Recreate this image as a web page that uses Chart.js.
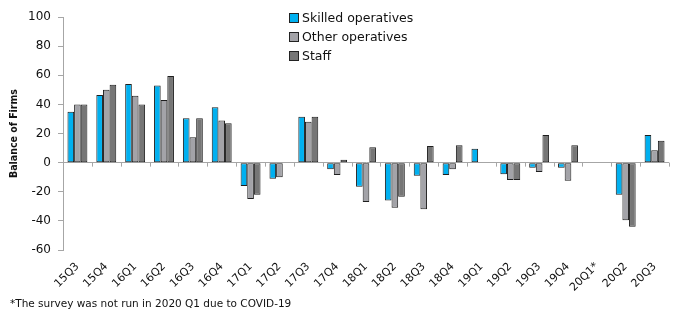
<!DOCTYPE html>
<html>
<head>
<meta charset="utf-8">
<script src="https://cdn.jsdelivr.net/npm/chart.js@4/dist/chart.umd.min.js"></script>
<style>
  body { margin: 0; background: #fff; }
  #wrap { position: relative; width: 675px; height: 311px; }
  #legend { position: absolute; left: 289px; top: 10px; font-family: "DejaVu Sans", sans-serif; font-size: 12.5px; color: #111; }
  #legend div { height: 19px; line-height: 16px; white-space: nowrap; }
  #legend span { display: inline-block; width: 8px; height: 8px; border: 1px solid #222; margin-right: 3px; vertical-align: -1px; }
  #note { position: absolute; left: 10px; top: 297px; font-family: "DejaVu Sans", sans-serif; font-size: 10.5px; color: #111; }
</style>
</head>
<body>
<div id="wrap">
  <canvas id="chart" width="675" height="311"></canvas>
  <div id="legend"></div>
  <div id="note">*The survey was not run in 2020 Q1 due to COVID-19</div>
</div>
<script>
const quarters = ['15Q3','15Q4','16Q1','16Q2','16Q3','16Q4','17Q1','17Q2','17Q3','17Q4',
                  '18Q1','18Q2','18Q3','18Q4','19Q1','19Q2','19Q3','19Q4','20Q1*','20Q2','20Q3'];
const skilled = [35, 46.5, 54, 53, 30.5, 38, -16, -11, 31.5, -4.5, -16.5, -26, -9, -8.5, 9.5, -8, -3.5, -3.5, null, -22, 19];
const other   = [40, 50, 46, 43, 17.5, 29, -25, -10, 28, -8.5, -27, -31, -32, -4.5, null, -12, -6.5, -12.5, null, -39.5, 8.5];
const staff   = [40, 53.5, 40, 59.5, 30.5, 27, -22, null, 31.5, 2, 10.5, -23.5, 11.5, 12, null, -12, 19, 12, null, -44, 15];
const yTicks  = [-60, -40, -20, 0, 20, 40, 60, 80, 100];

const seriesNames = ['Skilled operatives', 'Other operatives', 'Staff'];
const seriesColors = ['#00b0f0', '#a3a3a8', '#767676'];

function makeDataset(i, values){
    return {
        label: seriesNames[i],
        data: values,
        backgroundColor: seriesColors[i],
        borderColor: '#1e1e1e',
        borderWidth: 1,
        borderSkipped: false,
        barPercentage: 1,
        categoryPercentage: 0.69
    };
}

// small tick marks on the zero line between categories
const zeroTicks = {
    id: 'zeroTicks',
    afterDatasetsDraw(chart){
        const x = chart.scales.x, y = chart.scales.y;
        const y0 = y.getPixelForValue(0);
        const w = (x.right - x.left) / quarters.length;
        const ctx = chart.ctx;
        ctx.save();
        ctx.strokeStyle = '#a6a6a6';
        ctx.lineWidth = 1;
        ctx.beginPath();
        for(let i = 1; i <= quarters.length; i++){
            const px = Math.round(x.left + i * w) + 0.5;
            ctx.moveTo(px, y0);
            ctx.lineTo(px, y0 + 4);
        }
        ctx.stroke();
        ctx.restore();
    }
};

const ctx = document.getElementById('chart').getContext('2d');
new Chart(ctx, {
    type: 'bar',
    data: {
        labels: quarters,
        datasets: [makeDataset(0, skilled), makeDataset(1, other), makeDataset(2, staff)]
    },
    options: {
        responsive: false,
        animation: false,
        layout: { padding: { top: 17, right: 6, bottom: 0, left: 0 } },
        plugins: { legend: { display: false }, tooltip: { enabled: false } },
        scales: {
            x: {
                grid: { display: false },
                border: { display: false },
                ticks: {
                    autoSkip: false, maxRotation: 45, minRotation: 45,
                    color: '#111', padding: 2,
                    font: { family: 'DejaVu Sans', size: 11 }
                },
                afterFit(scale){ scale.height = 61; }
            },
            y: {
                min: -60, max: 100,
                afterBuildTicks(scale){ scale.ticks = yTicks.map(v => ({ value: v })); },
                grid: {
                    drawOnChartArea: true,
                    color: c => (c.tick && c.tick.value === 0) ? '#a6a6a6' : 'rgba(0,0,0,0)',
                    tickColor: '#a6a6a6', tickLength: 5
                },
                border: { display: true, color: '#a6a6a6' },
                ticks: { color: '#111', padding: 7, font: { family: 'DejaVu Sans', size: 12 } },
                title: {
                    display: true, text: 'Balance of Firms', color: '#111',
                    font: { family: 'DejaVu Sans Condensed', size: 10.5, weight: 'bold' },
                    padding: { top: 8, bottom: 0 }
                },
                afterFit(scale){ scale.width = 63; }
            }
        }
    },
    plugins: [zeroTicks]
});

const legend = document.getElementById('legend');
seriesNames.forEach((name, i) => {
    const row = document.createElement('div');
    row.innerHTML = '<span style="background:' + seriesColors[i] + '"></span>' + name;
    legend.appendChild(row);
});
</script>
</body>
</html>
